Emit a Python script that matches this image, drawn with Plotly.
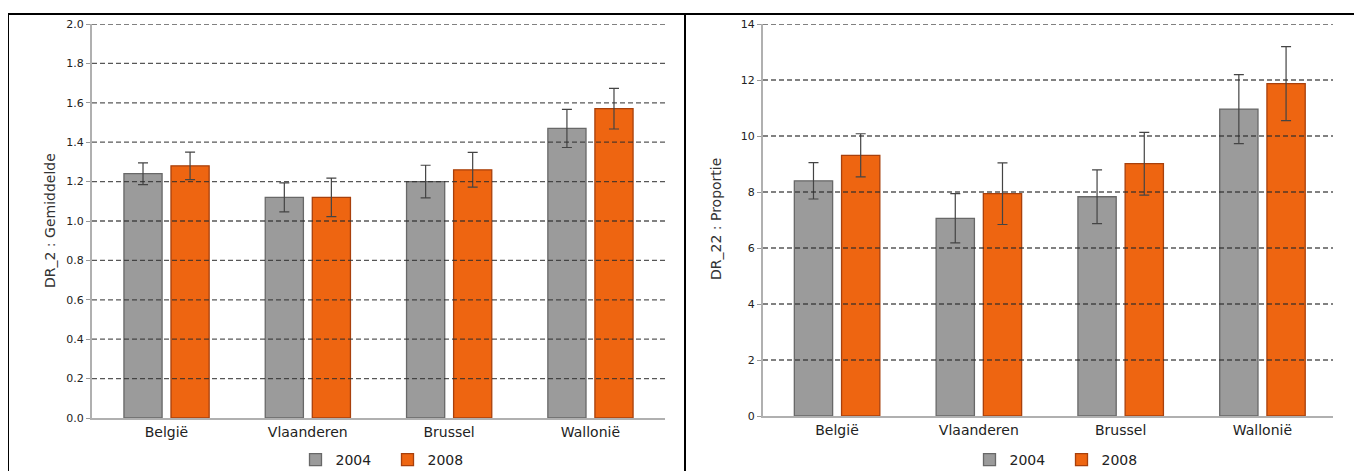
import plotly.graph_objects as go

# The page body has an 8px default margin, so figure coords = reference px - 8
OFF = 8
W, H = 1354, 463

categories = ["België", "Vlaanderen", "Brussel", "Wallonië"]
series_names = ["2004", "2008"]

# DR_2 : Gemiddelde
dr2_2004 = [1.24, 1.12, 1.20, 1.47]
dr2_2004_err = [0.055, 0.074, 0.083, 0.097]
dr2_2008 = [1.28, 1.12, 1.26, 1.57]
dr2_2008_err = [0.070, 0.098, 0.088, 0.103]

# DR_22 : Proportie
dr22_2004 = [8.40, 7.06, 7.83, 10.96]
dr22_2004_err = [0.65, 0.88, 0.96, 1.23]
dr22_2008 = [9.31, 7.94, 9.01, 11.87]
dr22_2008_err = [0.77, 1.10, 1.12, 1.32]

left_ticks = [0.0, 0.2, 0.4, 0.6, 0.8, 1.0, 1.2, 1.4, 1.6, 1.8, 2.0]
left_ticklabels = ["0.0", "0.2", "0.4", "0.6", "0.8", "1.0", "1.2", "1.4", "1.6", "1.8", "2.0"]
right_ticks = [0, 2, 4, 6, 8, 10, 12, 14]
right_ticklabels = ["0", "2", "4", "6", "8", "10", "12", "14"]

GRAY = "#9b9b9b"
GRAY_LINE = "#686868"
ORANGE = "#ee6511"
ORANGE_LINE = "#a8400c"
ERR = "#444444"
FONT = "DejaVu Sans, Liberation Sans, Arial, sans-serif"


def px_x(p):
    return (p - OFF) / W


def px_y(p):
    return 1 - (p - OFF) / H


fig = go.Figure()


def add_bars(xa, ya, v04, e04, v08, e08, legend):
    for name, vals, errs, fill, line, off in [
        (series_names[0], v04, e04, GRAY, GRAY_LINE, -0.301),
        (series_names[1], v08, e08, ORANGE, ORANGE_LINE, 0.032),
    ]:
        fig.add_trace(go.Bar(
            x=categories, y=vals, name=name,
            xaxis=xa, yaxis=ya,
            width=0.27, offset=off,
            marker=dict(color=fill, line=dict(color=line, width=1.3)),
            error_y=dict(type="data", array=errs, color=ERR, thickness=1.2, width=5),
            legend=legend, showlegend=True,
        ))


add_bars("x", "y", dr2_2004, dr2_2004_err, dr2_2008, dr2_2008_err, "legend")
add_bars("x2", "y2", dr22_2004, dr22_2004_err, dr22_2008, dr22_2008_err, "legend2")

line_common = dict(showline=True, linecolor="#b0b0b0", linewidth=2,
                   showgrid=False, zeroline=False)
xtickfont = dict(family=FONT, size=14, color="#222")
ytickfont = dict(family=FONT, size=11, color="#222")
legfont = dict(family=FONT, size=14, color="#222")

fig.update_layout(
    width=W, height=H,
    margin=dict(l=0, r=0, t=0, b=0, pad=0, autoexpand=False),
    paper_bgcolor="white", plot_bgcolor="white",
    barmode="overlay",
    font=dict(family=FONT, color="#222"),
    xaxis=dict(domain=[px_x(92), px_x(665)], range=[-0.527, 3.528],
               anchor="y", ticks="", tickfont=xtickfont, **line_common),
    yaxis=dict(domain=[px_y(418), px_y(24)], range=[0, 2.0], anchor="x",
               tickvals=left_ticks, ticktext=left_ticklabels,
               ticks="outside", ticklen=4, tickcolor="#999",
               tickfont=ytickfont, **line_common),
    xaxis2=dict(domain=[px_x(763), px_x(1333)], range=[-0.522, 3.498],
                anchor="y2", ticks="", tickfont=xtickfont, **line_common),
    yaxis2=dict(domain=[px_y(416), px_y(24)], range=[0, 14], anchor="x2",
                tickvals=right_ticks, ticktext=right_ticklabels,
                ticks="outside", ticklen=4, tickcolor="#999",
                tickfont=ytickfont, **line_common),
    legend=dict(orientation="h", x=px_x(295.5), y=px_y(460), xanchor="left", yanchor="middle",
                font=legfont, bgcolor="rgba(0,0,0,0)", traceorder="normal",
                entrywidth=47, entrywidthmode="pixels"),
    legend2=dict(orientation="h", x=px_x(969.5), y=px_y(460), xanchor="left", yanchor="middle",
                 font=legfont, bgcolor="rgba(0,0,0,0)", traceorder="normal",
                 entrywidth=47, entrywidthmode="pixels"),
)

shapes = []
# dashed gridlines drawn above bars
for ref_y, ref_x, ticks in [("y", "x", left_ticks), ("y2", "x2", right_ticks)]:
    for t in ticks[1:]:
        shapes.append(dict(type="line", xref=f"{ref_x} domain", x0=0, x1=1,
                           yref=ref_y, y0=t, y1=t, layer="above",
                           line=dict(color="rgba(45,45,45,0.8)", width=1.3, dash="5px,3px")))
# outer frames
shapes.append(dict(type="rect", xref="paper", yref="paper",
                   x0=px_x(8), x1=px_x(685), y0=-0.2, y1=px_y(14),
                   line=dict(color="black", width=2), layer="above"))
shapes.append(dict(type="rect", xref="paper", yref="paper",
                   x0=px_x(685), x1=px_x(1357), y0=-0.2, y1=px_y(14),
                   line=dict(color="black", width=2), layer="above"))
fig.update_layout(shapes=shapes)

fig.add_annotation(text="DR_2 : Gemiddelde", xref="paper", yref="paper",
                   x=px_x(40), y=px_y(221), textangle=-90, showarrow=False,
                   font=dict(family=FONT, size=14, color="#333"))
fig.add_annotation(text="DR_22 : Proportie", xref="paper", yref="paper",
                   x=px_x(716), y=px_y(219), textangle=-90, showarrow=False,
                   font=dict(family=FONT, size=14, color="#333"))

fig.write_html("out.html")
